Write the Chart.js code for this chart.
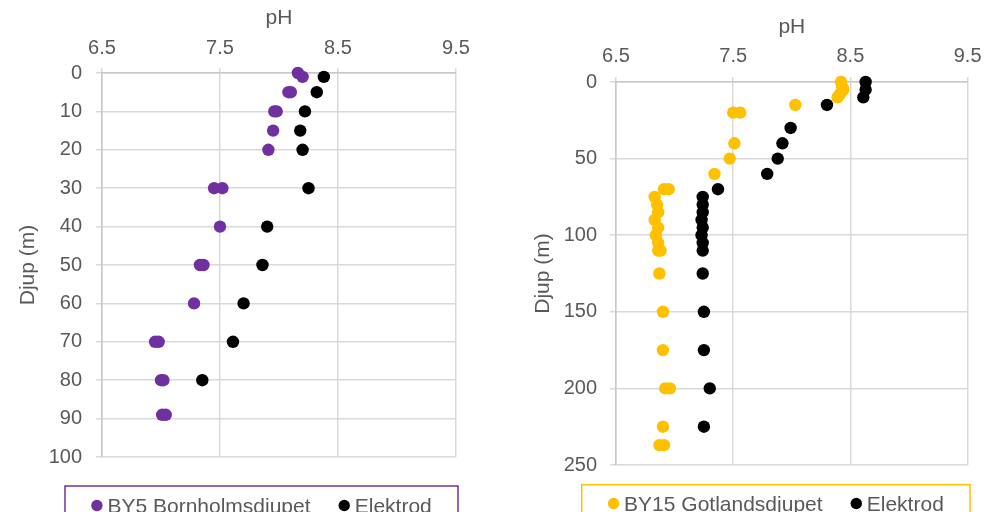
<!DOCTYPE html>
<html><head><meta charset="utf-8">
<script src="https://cdn.jsdelivr.net/npm/chart.js@4"></script>
<style>
html,body{margin:0;padding:0;background:#fff;overflow:hidden;width:990px;height:512px;position:relative}
canvas{position:absolute;top:0}
#c1{left:0}
#c2{left:510px}
</style></head><body>
<canvas id="c1" width="500" height="540"></canvas>
<canvas id="c2" width="480" height="540"></canvas>
<script>
// ---- tick labels ----
const xTicks = [6.5, 7.5, 8.5, 9.5];
const yTicksBY5 = [0, 10, 20, 30, 40, 50, 60, 70, 80, 90, 100];
const yTicksBY15 = [0, 50, 100, 150, 200, 250];

// ---- BY5 Bornholmsdjupet ----
const by5Label = 'BY5 Bornholmsdjupet';
const by5Depth = [0, 1, 5, 5, 10, 10, 15, 20, 30, 30, 40, 50, 50, 60, 70, 70, 80, 80, 89, 89];
const by5PH    = [8.16, 8.2, 8.08, 8.1, 7.96, 7.98, 7.95, 7.91, 7.45, 7.52, 7.5, 7.33, 7.36, 7.28, 6.95, 6.98, 7.0, 7.02, 7.01, 7.04];
const by5ElDepth = [1, 5, 10, 15, 20, 30, 40, 50, 60, 70, 80];
const by5ElPH    = [8.38, 8.32, 8.22, 8.18, 8.2, 8.25, 7.9, 7.86, 7.7, 7.61, 7.35];

// ---- BY15 Gotlandsdjupet ----
const by15Label = 'BY15 Gotlandsdjupet';
const by15Depth = [0, 3, 5, 8, 10, 15, 20, 20, 40, 50, 60, 70, 70, 75, 80, 85, 90, 95, 100, 105, 110, 110, 125, 150, 175, 200, 200, 225, 237, 237];
const by15PH    = [8.42, 8.43, 8.44, 8.41, 8.39, 8.03, 7.5, 7.56, 7.51, 7.47, 7.34, 6.91, 6.95, 6.83, 6.85, 6.86, 6.83, 6.86, 6.84, 6.86, 6.86, 6.88, 6.87, 6.9, 6.9, 6.92, 6.96, 6.9, 6.87, 6.91];
const by15ElDepth = [0, 5, 10, 15, 30, 40, 50, 60, 70, 75, 80, 85, 90, 95, 100, 105, 110, 125, 150, 175, 200, 225];
const by15ElPH    = [8.63, 8.63, 8.61, 8.3, 7.99, 7.92, 7.88, 7.79, 7.37, 7.24, 7.24, 7.24, 7.23, 7.24, 7.23, 7.24, 7.24, 7.24, 7.25, 7.25, 7.3, 7.25];

const elLabel = 'Elektrod';
const purple = '#7030a0', yellow = '#ffc000', black = '#000000';

const FONT = '"Liberation Sans", Arial, Helvetica, sans-serif';
const TXT = '#595959';
const GRID = '#d9d9d9';

function pts(xs, ys) { return xs.map((x, i) => ({ x: x, y: ys[i] })); }

const boxLegend = {
  id: 'boxLegend',
  afterDraw(chart, args, o) {
    const ctx = chart.ctx;
    ctx.save();
    ctx.strokeStyle = o.color;
    ctx.lineWidth = 1.5;
    ctx.strokeRect(o.left, o.top, o.right - o.left, 80);
    ctx.font = '21px ' + FONT;
    ctx.textBaseline = 'alphabetic';
    ctx.textAlign = 'left';
    const items = chart.data.datasets.map(d => ({ text: d.label, color: d.backgroundColor }));
    const r = 5.7, gapDot = 4.8, gapItem = 28;
    const widths = items.map(it => ctx.measureText(it.text).width);
    let total = 0;
    widths.forEach((w, i) => { total += 2 * r + gapDot + w + (i ? gapItem : 0); });
    let x = (o.left + o.right) / 2 - total / 2;
    items.forEach((it, i) => {
      ctx.fillStyle = it.color;
      ctx.beginPath();
      ctx.arc(x + r, o.dotY, r, 0, Math.PI * 2);
      ctx.fill();
      ctx.fillStyle = TXT;
      ctx.fillText(it.text, x + 2 * r + gapDot, o.baseline);
      x += 2 * r + gapDot + widths[i] + gapItem;
    });
    ctx.restore();
  }
};

function makeChart(id, c) {
  const canvas = document.getElementById(id);
  const W = canvas.width, H = canvas.height;
  return new Chart(canvas, {
    type: 'scatter',
    data: {
      datasets: [
        { label: c.label, data: pts(c.ph, c.depth), backgroundColor: c.color, borderColor: c.color,
          pointRadius: 6.2, pointHoverRadius: 6.2, pointBorderWidth: 0, clip: false },
        { label: elLabel, data: pts(c.elPh, c.elDepth), backgroundColor: black, borderColor: black,
          pointRadius: 6.2, pointHoverRadius: 6.2, pointBorderWidth: 0, clip: false }
      ]
    },
    options: {
      responsive: false,
      animation: false,
      devicePixelRatio: 1,
      layout: { padding: { left: 0, top: 0, right: W - c.area.right, bottom: H - c.area.bottom } },
      plugins: {
        legend: { display: false },
        tooltip: { enabled: false },
        boxLegend: c.legend
      },
      scales: {
        x: {
          type: 'linear', position: 'top', min: 6.5, max: 9.5,
          afterBuildTicks: s => { s.ticks = xTicks.map(v => ({ value: v })); },
          afterFit: s => { s.height = c.area.top; },
          ticks: { font: { family: FONT, size: 20 }, color: TXT, padding: c.xTickPad,
                   callback: v => Number(v).toFixed(1) },
          grid: { color: GRID, lineWidth: 1.5, tickLength: 5 },
          border: { color: '#c8c8c8', width: 1.5 },
          title: { display: true, text: 'pH', font: { family: FONT, size: 21 }, color: TXT,
                   padding: { top: c.xTitlePad, bottom: 0 } }
        },
        y: {
          type: 'linear', position: 'left', reverse: true, min: 0, max: c.yMax,
          afterBuildTicks: s => { s.ticks = c.yTicks.map(v => ({ value: v })); },
          afterFit: s => { s.width = c.area.left; },
          ticks: { font: { family: FONT, size: 20 }, color: TXT, padding: c.yTickPad },
          grid: { color: GRID, lineWidth: 1.5, tickLength: 6 },
          border: { color: '#c8c8c8', width: 1.5 },
          title: { display: true, text: 'Djup (m)', font: { family: FONT, size: 21 }, color: TXT,
                   padding: { top: c.yTitlePad, bottom: 0 } }
        }
      }
    },
    plugins: [boxLegend]
  });
}

makeChart('c1', {
  label: by5Label, color: purple,
  depth: by5Depth, ph: by5PH, elDepth: by5ElDepth, elPh: by5ElPH,
  yMax: 100, yTicks: yTicksBY5,
  area: { left: 102, top: 73, right: 456, bottom: 457 },
  xTickPad: 8, xTitlePad: 5.4, yTickPad: 14, yTitlePad: 15.4,
  legend: { left: 65, right: 458, top: 486, baseline: 513, dotY: 505.5, color: purple }
});

makeChart('c2', {
  label: by15Label, color: yellow,
  depth: by15Depth, ph: by15PH, elDepth: by15ElDepth, elPh: by15ElPH,
  yMax: 250, yTicks: yTicksBY15,
  area: { left: 106, top: 82, right: 459, bottom: 465 },
  xTickPad: 8.5, xTitlePad: 14.4, yTickPad: 13, yTitlePad: 20.4,
  legend: { left: 71.7, right: 460, top: 484.7, baseline: 511, dotY: 503.5, color: yellow }
});
</script>
</body></html>
